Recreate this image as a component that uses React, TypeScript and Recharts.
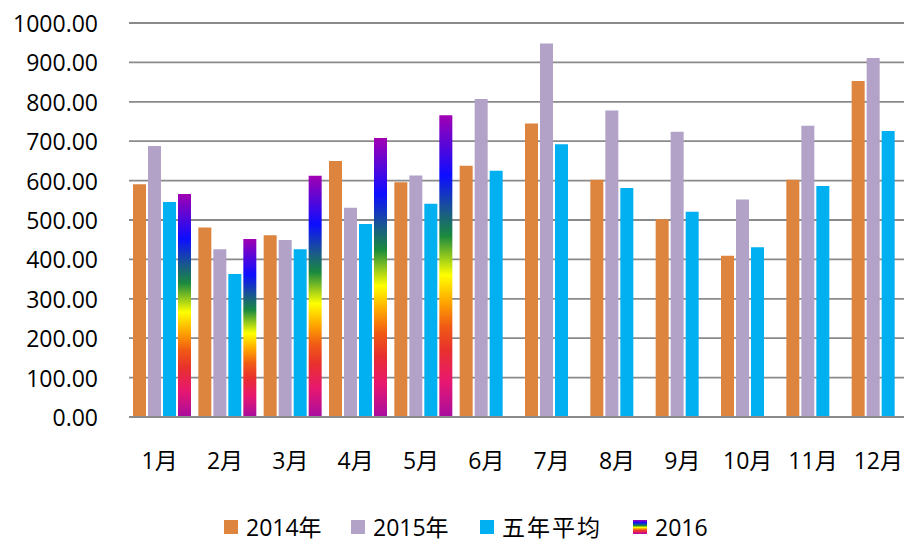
import React from "react";
import { BarChart, Bar, XAxis, YAxis, CartesianGrid, Legend } from "recharts";

const months = ["1月", "2月", "3月", "4月", "5月", "6月", "7月", "8月", "9月", "10月", "11月", "12月"];
const y2014 = [591, 481, 461, 650, 596, 638, 745, 602, 502, 409, 602, 853];
const y2015 = [688, 426, 449, 531, 613, 807, 948, 778, 724, 552, 739, 911];
const avg5 = [546, 363, 426, 490, 541, 625, 692, 581, 521, 431, 586, 726];
const y2016 = [566, 452, 612, 708, 766, null, null, null, null, null, null, null];
const yTicks = [0, 100, 200, 300, 400, 500, 600, 700, 800, 900, 1000];

const data = months.map((m, i) => ({
  month: m,
  a: y2014[i],
  b: y2015[i],
  c: avg5[i],
  d: y2016[i],
}));

const FONT = "'Open Sans', 'Noto Sans CJK SC', sans-serif";
const ORANGE = "#DD843F";
const PURPLE = "#B3A2C7";
const CYAN = "#00B0F0";
const GRID = "#8a8a8a";

const RAINBOW: [number, string][] = [
  [0, "#A100B2"],
  [0.2, "#0D0DFF"],
  [0.32, "#1A5A8A"],
  [0.4, "#1A8A3E"],
  [0.53, "#FFFF00"],
  [0.62, "#FFA500"],
  [0.7, "#F05A14"],
  [0.78, "#E8302E"],
  [0.88, "#E8186E"],
  [1, "#A80CA0"],
];

// legend entries, with the slot width each one takes
const legendItems = [
  { name: "2014年", bg: ORANGE, w: 127 },
  { name: "2015年", bg: PURPLE, w: 129 },
  { name: "五年平均", bg: CYAN, w: 153 },
  {
    name: "2016",
    bg: `linear-gradient(to bottom, ${RAINBOW.map(([o, c]) => `${c} ${o * 100}%`).join(", ")})`,
    w: 90,
  },
];

const YTick = ({ y, payload }: any) => (
  <text x={98} y={y} textAnchor="end" dominantBaseline="central" fontSize={23} fontFamily={FONT} fill="#000">
    {Number(payload.value).toFixed(2)}
  </text>
);

const XTick = ({ x, y, payload }: any) => (
  <text x={x - 2} y={y + 35} textAnchor="middle" dominantBaseline="central" fontSize={23} fontFamily={FONT} fill="#000">
    {payload.value}
  </text>
);

const LegendBox = () => (
  <div
    style={{
      height: 44,
      boxSizing: "border-box",
      paddingTop: 14,
      paddingLeft: 224,
      display: "flex",
      alignItems: "center",
      fontFamily: FONT,
      fontSize: 23,
      lineHeight: "28px",
      color: "#000",
    }}
  >
    {legendItems.map((it) => (
      <div key={it.name} style={{ display: "flex", alignItems: "center", width: it.w, flexShrink: 0 }}>
        <span style={{ width: 14, height: 14, background: it.bg, marginRight: 8, flexShrink: 0 }} />
        <span style={{ whiteSpace: "nowrap", letterSpacing: it.name === "五年平均" ? 2 : 0 }}>{it.name}</span>
      </div>
    ))}
  </div>
);

export default function App() {
  return (
    <div style={{ position: "fixed", top: 0, left: 0, width: 904, height: 542, overflow: "hidden", background: "#fff" }}>
      <BarChart
        width={920}
        height={542}
        data={data}
        margin={{ top: 23, right: 7, left: 0, bottom: 0 }}
        barCategoryGap={4}
        barGap={2}
      >
        <defs>
          <linearGradient id="rainbow" x1="0" y1="0" x2="0" y2="1">
            {RAINBOW.map(([o, c]) => (
              <stop key={o} offset={o} stopColor={c} />
            ))}
          </linearGradient>
        </defs>
        <CartesianGrid vertical={false} stroke={GRID} strokeWidth={1.8} />
        <XAxis
          dataKey="month"
          height={81}
          tickLine={false}
          axisLine={{ stroke: GRID, strokeWidth: 1.8 }}
          tick={<XTick />}
          interval={0}
        />
        <YAxis
          width={129}
          domain={[0, 1000]}
          ticks={yTicks}
          tickLine={false}
          axisLine={false}
          tick={<YTick />}
          interval={0}
        />
        <Legend verticalAlign="bottom" height={44} content={<LegendBox />} />
        <Bar dataKey="a" name="2014年" fill={ORANGE} isAnimationActive={false} />
        <Bar dataKey="b" name="2015年" fill={PURPLE} isAnimationActive={false} />
        <Bar dataKey="c" name="五年平均" fill={CYAN} isAnimationActive={false} />
        <Bar dataKey="d" name="2016" fill="url(#rainbow)" isAnimationActive={false} />
      </BarChart>
    </div>
  );
}
